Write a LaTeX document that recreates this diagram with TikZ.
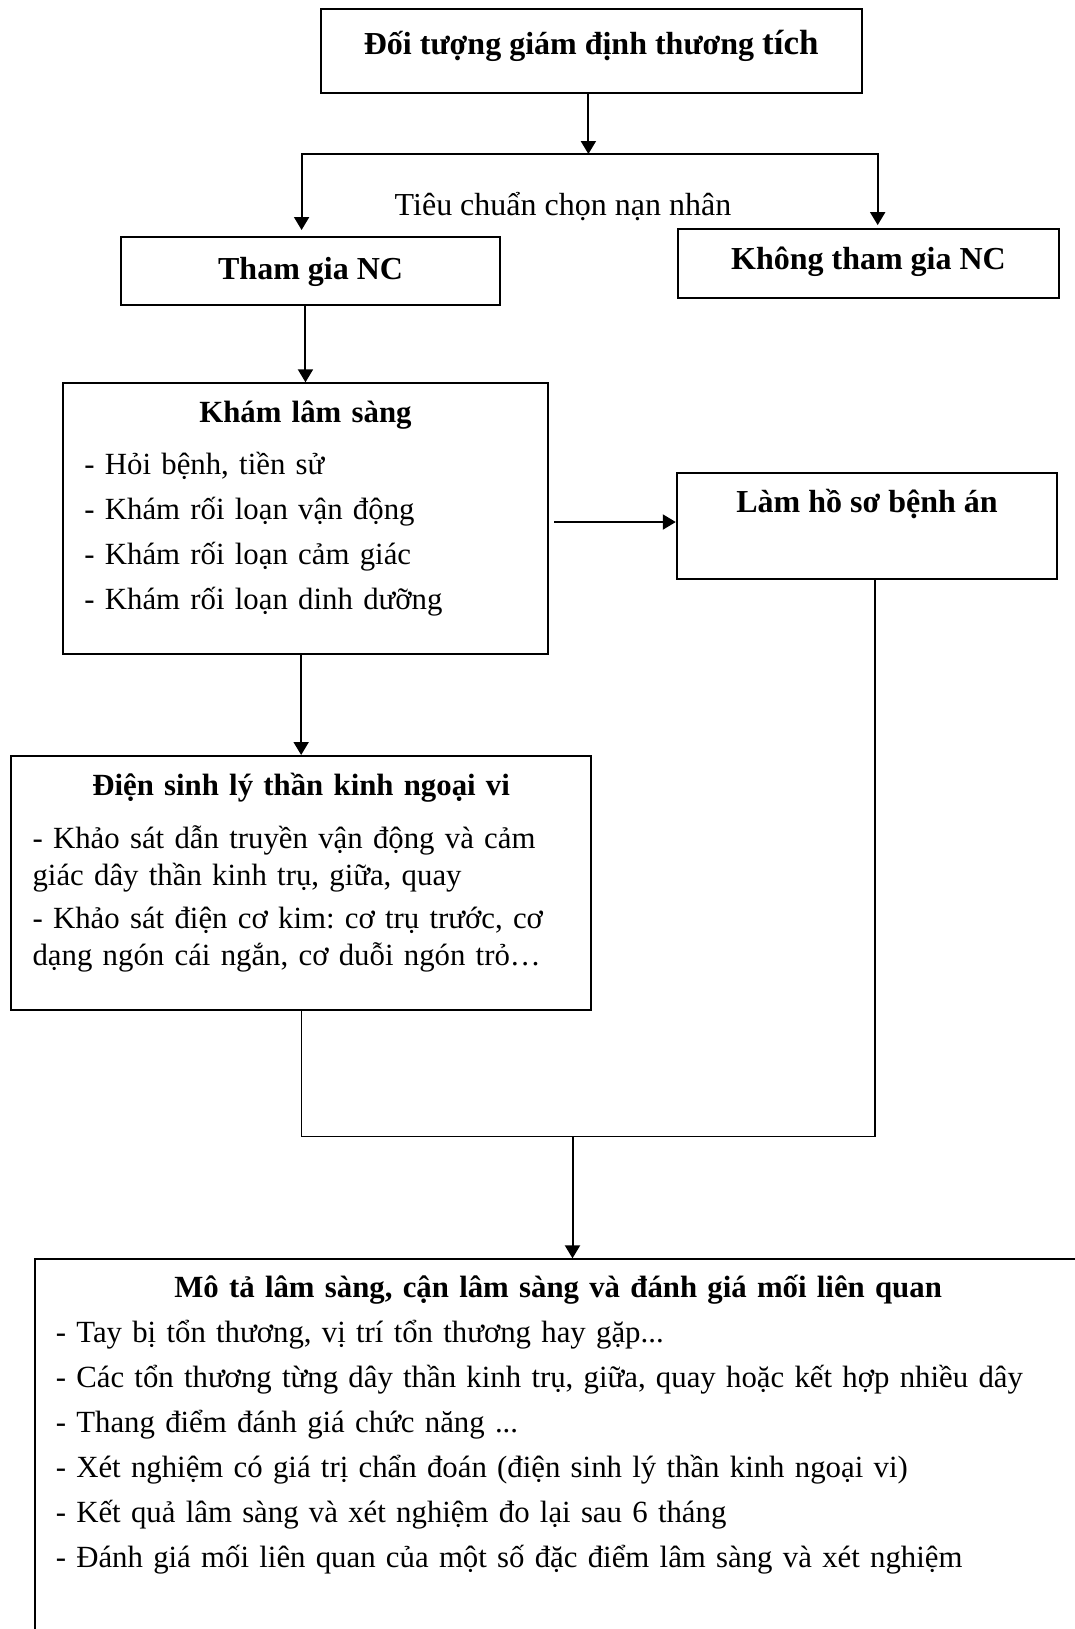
\documentclass[tikz,border=0pt]{standalone}
\usepackage{fontspec}
\setmainfont{Liberation Serif}
\usetikzlibrary{arrows.meta}
\frenchspacing

\begin{document}
\begin{tikzpicture}[x=0.5pt,y=-0.5pt,>={Triangle[length=6.5pt,width=7.5pt]},
	box/.style={draw,line width=1pt,inner sep=0pt,anchor=north west,font=\fontsize{16}{19}\selectfont},
	head/.style={box,font=\fontsize{16}{19}\selectfont\bfseries,align=center},
	list/.style={box,align=left},
	link/.style={line width=1pt},
	thinlink/.style={line width=0.6pt}]
\useasboundingbox (0,0) rectangle (1075,1629);
\node[head,minimum width=270.75pt,text height=22.9pt,text depth=19.5pt]		(top)	at (319.5,7.5)		{Đối tượng giám định thương {\fontsize{17.5}{19}\selectfont tích}};
\node[anchor=base,font=\fontsize{16}{19}\selectfont]						(crit)	at (563,215)		{Tiêu chuẩn chọn nạn nhân};
\node[head,minimum width=189.8pt,text height=21.15pt,text depth=13pt]		(tham)	at (119.8,236)		{Tham gia NC};
\node[head,minimum width=190.2pt,text height=20pt,text depth=14.2pt]		(khong)	at (677.3,228.3)	{Không tham gia NC};
\node[list,text width=221.05pt,inner xsep=10.5pt,text height=19.7pt,text depth=115.5pt,
	font=\fontsize{15.4}{22.5}\selectfont]									(kham)	at (62.4,382.3)
	{{\centering\bfseries Khám lâm sàng\par}\vspace{3.15pt}
	- Hỏi bệnh, tiền sử\par
	- Khám rối loạn vận động\par
	- Khám rối loạn cảm giác\par
	- Khám rối loạn dinh dưỡng};
\node[head,minimum width=190.25pt,text height=20pt,text depth=33.3pt]		(lam)	at (675.8,471.7)	{Làm hồ sơ bệnh án};
\node[list,text width=268.55pt,inner xsep=10.85pt,text height=19.65pt,text depth=107.5pt,
	font=\fontsize{15.4}{18.75}\selectfont]									(dien)	at (9.9,755)
	{{\centering\bfseries Điện sinh lý thần kinh ngoại vi\par}\vspace{7.75pt}
	- Khảo sát dẫn truyền vận động và cảm\newline giác dây thần kinh trụ, giữa, quay\par\vspace{2.5pt}
	- Khảo sát điện cơ kim: cơ trụ trước, cơ\newline dạng ngón cái ngắn, cơ duỗi ngón trỏ…};
\node[list,text width=502.35pt,inner xsep=10.25pt,text height=19.2pt,text depth=174.15pt,
	font=\fontsize{15.4}{22.5}\selectfont]									(mota)	at (34.3,1258.3)
	{{\centering\bfseries Mô tả lâm sàng, cận lâm sàng và đánh giá mối liên quan\par}
	- Tay bị tổn thương, vị trí tổn thương hay gặp...\par
	- Các tổn thương từng dây thần kinh trụ, giữa, quay hoặc kết hợp nhiều dây\par
	- Thang điểm đánh giá chức năng ...\par
	- Xét nghiệm có giá trị chẩn đoán (điện sinh lý thần kinh ngoại vi)\par
	- Kết quả lâm sàng và xét nghiệm đo lại sau 6 tháng\par
	- Đánh giá mối liên quan của một số đặc điểm lâm sàng và xét nghiệm};
\coordinate (split) at (588.4,154);
\coordinate (lamin) at ([yshift=2pt]lam.west);
\coordinate (join) at (572.5,1136.5);
\draw[link,->]						(split |- top.south)	--	(split);
\draw[link,->,shorten >=3pt]		(split)					-|	([xshift=-4.5pt]tham.north);
\draw[link,->,shorten >=1.6pt]		(split)					-|	([xshift=4.6pt]khong.north);
\draw[link,->]						(kham.north |- tham.south)	--	(kham.north);
\draw[link,->,shorten <=2.75pt]		(kham.east |- lamin)	--	(lamin);
\draw[link,->]						(dien.north |- kham.south)	--	(dien.north);
\draw[thinlink]						(dien.south)			|-	(join)	-|	([xshift=4pt]lam.south);
\draw[link,->]						(join)					--	(join |- mota.north);
\end{tikzpicture}
\end{document}
